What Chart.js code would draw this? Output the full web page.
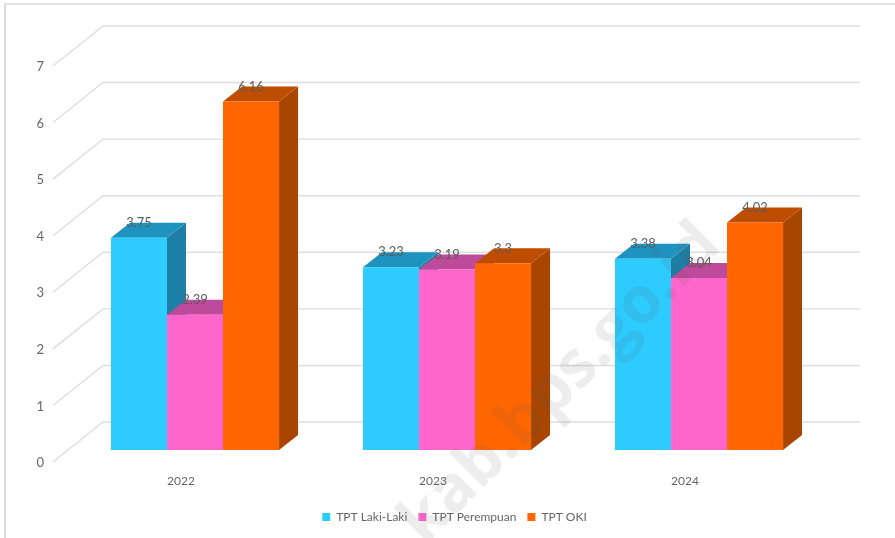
<!DOCTYPE html>
<html lang="en">
<head>
<meta charset="UTF-8">
<title>TPT OKI</title>
<script src="https://cdn.jsdelivr.net/npm/chart.js"></script>
<style>
  html, body { margin: 0; padding: 0; background: #fff; overflow: hidden; }
  #wrap { position: absolute; left: 0; top: 0; width: 895px; height: 538px; filter: blur(0.5px); }
  #frame { position: absolute; left: 4px; top: 3px; right: 0; bottom: 0; border-left: 2px solid #ddd; border-top: 2px solid #e4e4e4; }
</style>
</head>
<body>
<div id="wrap">
  <div id="frame"></div>
  <canvas id="chart" width="895" height="538"></canvas>
</div>
<script>
const years = ['2022', '2023', '2024'];
const seriesNames = ['TPT Laki-Laki', 'TPT Perempuan', 'TPT OKI'];
const lakiLaki = [3.75, 3.23, 3.38];
const perempuan = [2.39, 3.19, 3.04];
const oki = [6.16, 3.3, 4.02];
const yTicks = [0, 1, 2, 3, 4, 5, 6, 7];

const frontColors = ['#2ecbff', '#ff66cc', '#ff6600'];
const topColors = ['#1f93bf', '#bd4a9b', '#bf4d00'];
const sideColors = ['#1c7fa6', '#a8408a', '#a84500'];

// depth of the fake 3d
const barDx = 19, barDy = 15;
const wallLeft = 103, wallRight = 860, wallDy = 28, floorX = 53, floorDy = 12;

function quad(ctx, pts, color) {
  ctx.fillStyle = color;
  ctx.beginPath();
  ctx.moveTo(pts[0][0], pts[0][1]);
  for (let i = 1; i < pts.length; i++) ctx.lineTo(pts[i][0], pts[i][1]);
  ctx.closePath();
  ctx.fill();
}

const box3d = {
  id: 'box3d',
  afterLayout(chart) {
    // legend sits right of centre in the original
    chart.legend.left += 42;
    chart.legend.right += 42;
  },
  beforeDatasetsDraw(chart) {
    const ctx = chart.ctx, y = chart.scales.y;
    ctx.save();
    ctx.strokeStyle = '#dedede';
    ctx.lineWidth = 1.4;
    yTicks.forEach(t => {
      const py = y.getPixelForValue(t);
      ctx.beginPath();
      ctx.moveTo(floorX, py + floorDy);
      ctx.lineTo(wallLeft, py - wallDy);
      ctx.lineTo(wallRight, py - wallDy);
      ctx.stroke();
    });
    chart.data.datasets.forEach((ds, i) => {
      chart.getDatasetMeta(i).data.forEach(bar => {
        const l = bar.x - bar.width / 2, r = bar.x + bar.width / 2;
        quad(ctx, [[r, bar.y], [r + barDx, bar.y - barDy], [r + barDx, bar.base - barDy], [r, bar.base]], sideColors[i]);
        quad(ctx, [[l, bar.y], [l + barDx, bar.y - barDy], [r + barDx, bar.y - barDy], [r, bar.y]], topColors[i]);
      });
    });
    ctx.restore();
  },
  afterDatasetsDraw(chart) {
    const ctx = chart.ctx;
    ctx.save();
    ctx.font = '13px Lato';
    ctx.fillStyle = '#5c5c5c';
    ctx.textAlign = 'center';
    ctx.textBaseline = 'middle';
    chart.data.datasets.forEach((ds, i) => {
      chart.getDatasetMeta(i).data.forEach((bar, j) => {
        ctx.fillText(String(ds.data[j]), bar.x, bar.y - barDy);
      });
    });
    // watermark
    ctx.translate(561, 384);
    ctx.rotate(-Math.PI / 4);
    ctx.font = 'bold 64px "Open Sans"';
    ctx.fillStyle = 'rgba(90,90,90,0.11)';
    ctx.fillText('kab.bps.go.id', 0, 0);
    ctx.restore();
  }
};

new Chart(document.getElementById('chart'), {
  type: 'bar',
  data: {
    labels: years,
    datasets: [
      { label: seriesNames[0], data: lakiLaki, backgroundColor: frontColors[0] },
      { label: seriesNames[1], data: perempuan, backgroundColor: frontColors[1] },
      { label: seriesNames[2], data: oki, backgroundColor: frontColors[2] }
    ]
  },
  options: {
    responsive: false,
    animation: false,
    layout: { padding: { top: 54, right: 70, bottom: 5, left: 0 } },
    datasets: { bar: { categoryPercentage: 0.667, barPercentage: 1 } },
    plugins: {
      tooltip: { enabled: false },
      legend: {
        position: 'bottom',
        labels: {
          font: { family: 'Lato', size: 12 },
          color: '#666',
          boxWidth: 8,
          boxHeight: 8,
          padding: 11
        }
      }
    },
    scales: {
      x: {
        afterFit(s) { s.height = 50; },
        grid: { display: false },
        border: { display: false },
        ticks: { labelOffset: -14, padding: 16, color: '#666', font: { family: 'Lato', size: 12 }, maxRotation: 0 }
      },
      y: {
        min: 0,
        max: 7,
        afterFit(s) { s.width = 69; },
        grid: { display: false },
        border: { display: false },
        ticks: { stepSize: 1, labelOffset: 13, padding: 17, color: '#666', font: { family: 'Lato', size: 13 } }
      }
    }
  },
  plugins: [box3d]
});
</script>
</body>
</html>
